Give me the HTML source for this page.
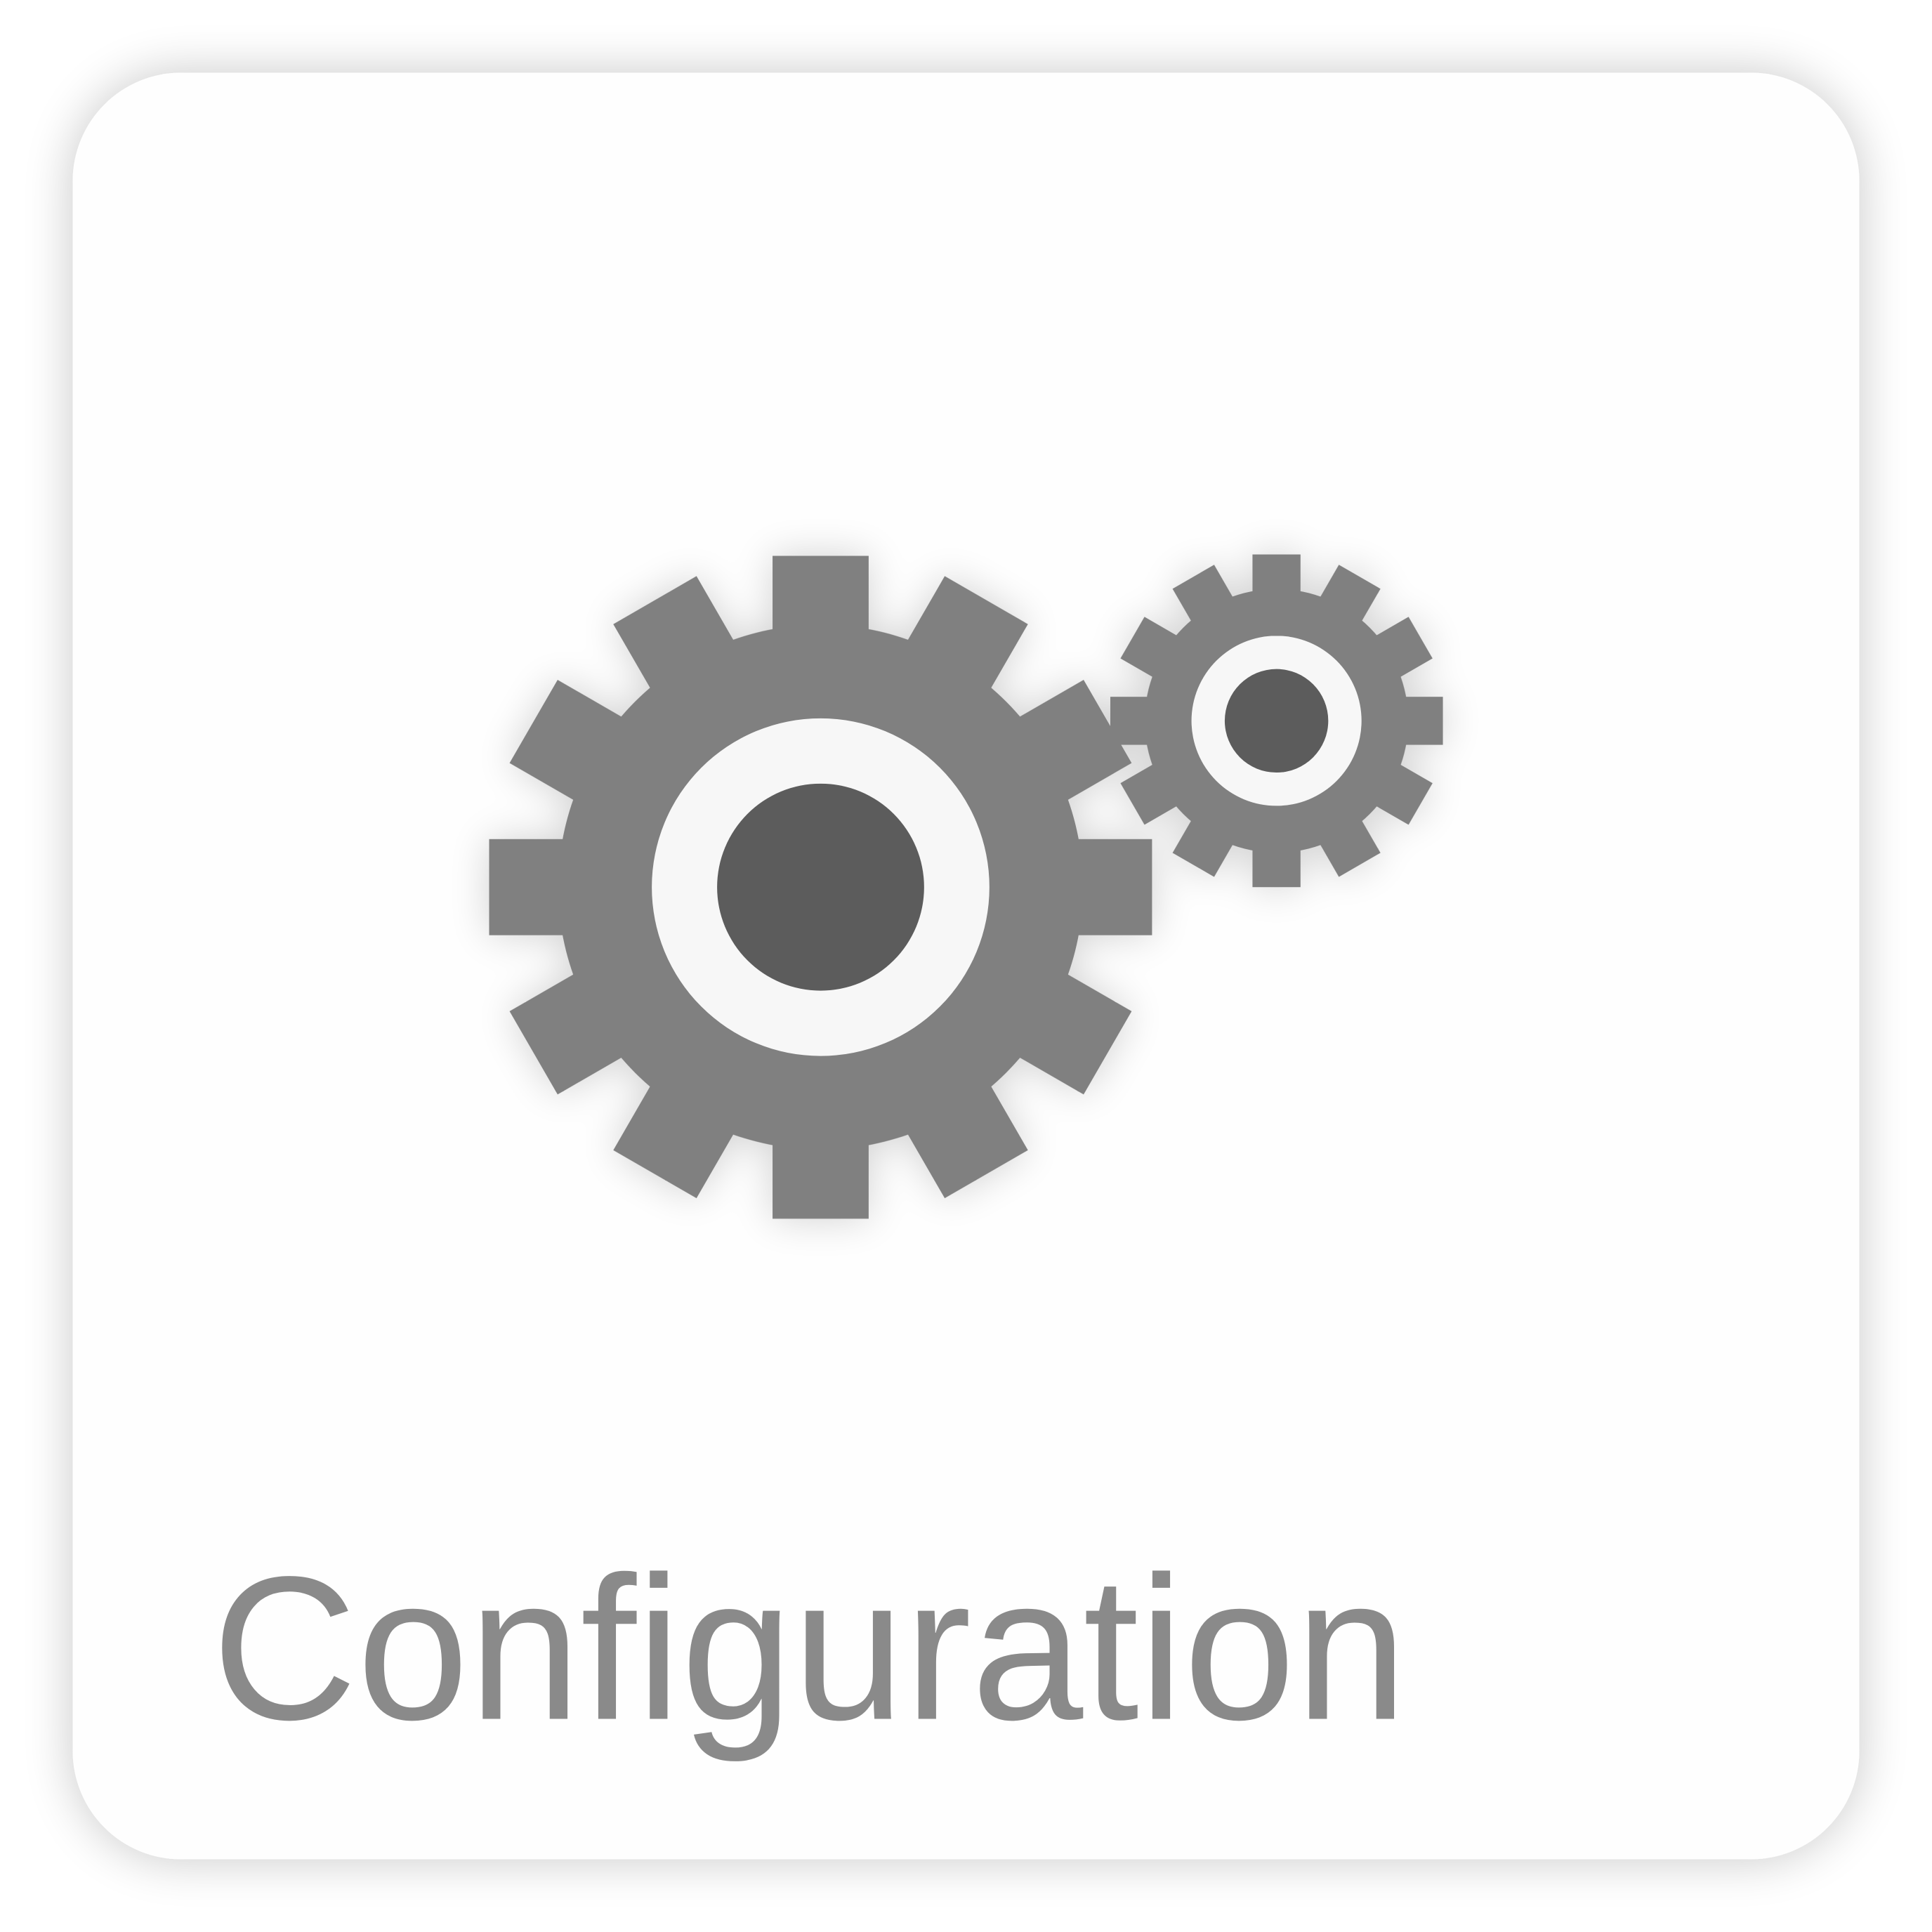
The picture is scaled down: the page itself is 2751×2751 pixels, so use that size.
<!DOCTYPE html>
<html><head><meta charset="utf-8"><style>html,body{margin:0;padding:0;background:#fff}svg{display:block}</style></head>
<body>
<svg width="2751" height="2751" viewBox="0 0 1568 1568" xmlns="http://www.w3.org/2000/svg">
<defs>
<filter id="cs" x="-10%" y="-10%" width="120%" height="120%"><feGaussianBlur in="SourceAlpha" stdDeviation="20"/><feComponentTransfer><feFuncA type="linear" slope="0.22"/></feComponentTransfer><feMerge><feMergeNode/><feMergeNode in="SourceGraphic"/></feMerge></filter>
<filter id="gs" x="-30%" y="-30%" width="160%" height="160%"><feGaussianBlur in="SourceAlpha" stdDeviation="16"/><feComponentTransfer><feFuncA type="linear" slope="0.18"/></feComponentTransfer><feMerge><feMergeNode/><feMergeNode in="SourceGraphic"/></feMerge></filter>
<g id="bt"><rect x="-39" y="-269" width="78" height="100" fill="#808080"/></g>
<g id="st"><rect x="-19.5" y="-135" width="39" height="50" fill="#808080"/></g>
</defs>
<rect x="59" y="59" width="1450" height="1450" rx="88" fill="#fefefe" filter="url(#cs)"/>
<g filter="url(#gs)">
<g transform="translate(666 720)">
<circle r="213" fill="#808080"/>
<use href="#bt"/><use href="#bt" transform="rotate(30)"/><use href="#bt" transform="rotate(60)"/><use href="#bt" transform="rotate(90)"/><use href="#bt" transform="rotate(120)"/><use href="#bt" transform="rotate(150)"/><use href="#bt" transform="rotate(180)"/><use href="#bt" transform="rotate(210)"/><use href="#bt" transform="rotate(240)"/><use href="#bt" transform="rotate(270)"/><use href="#bt" transform="rotate(300)"/><use href="#bt" transform="rotate(330)"/>
</g>
<g transform="translate(1036 585)">
<circle r="107" fill="#808080"/>
<use href="#st"/><use href="#st" transform="rotate(30)"/><use href="#st" transform="rotate(60)"/><use href="#st" transform="rotate(90)"/><use href="#st" transform="rotate(120)"/><use href="#st" transform="rotate(150)"/><use href="#st" transform="rotate(180)"/><use href="#st" transform="rotate(210)"/><use href="#st" transform="rotate(240)"/><use href="#st" transform="rotate(270)"/><use href="#st" transform="rotate(300)"/><use href="#st" transform="rotate(330)"/>
</g>
</g>
<circle cx="666" cy="720" r="137" fill="#f7f7f7"/>
<circle cx="666" cy="720" r="84" fill="#5c5c5c"/>
<circle cx="1036" cy="585" r="69" fill="#f7f7f7"/>
<circle cx="1036" cy="585" r="42" fill="#5c5c5c"/>
<text x="172" y="1395" font-family="Liberation Sans, sans-serif" font-size="166" fill="#8a8a8a" textLength="970" lengthAdjust="spacingAndGlyphs">Configuration</text>
</svg>
</body></html>
